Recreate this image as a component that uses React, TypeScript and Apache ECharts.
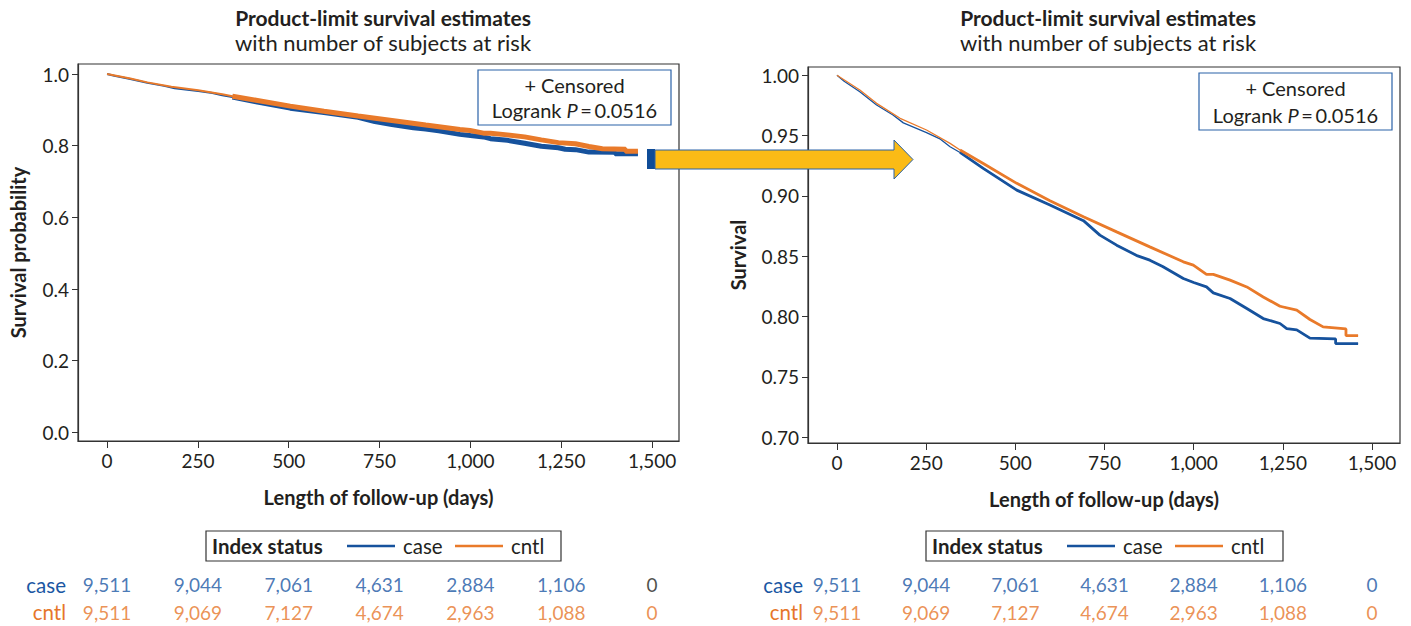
import React, { useEffect, useRef } from "react";
import * as echarts from "echarts";

// ---- data ----
const caseDays = [0, 20, 64, 111, 157, 186, 251, 290, 317, 345, 410, 504, 597, 691, 737, 784, 843, 877, 913, 971, 1000, 1036, 1055, 1102, 1149, 1195, 1242, 1261, 1289, 1326, 1398, 1398, 1461];
const caseSurv = [1.0, 0.995, 0.9863, 0.9753, 0.967, 0.9605, 0.9525, 0.947, 0.9407, 0.936, 0.9228, 0.9048, 0.8925, 0.8795, 0.8675, 0.8592, 0.8503, 0.8468, 0.8415, 0.8316, 0.8283, 0.8246, 0.8197, 0.815, 0.8067, 0.7984, 0.7943, 0.7901, 0.789, 0.7822, 0.7815, 0.7777, 0.7777];
const cntlDays = [0, 64, 111, 177, 251, 317, 345, 410, 504, 597, 691, 784, 877, 971, 999, 1036, 1055, 1102, 1149, 1195, 1242, 1289, 1326, 1363, 1427, 1427, 1461];
const cntlSurv = [1.0, 0.9877, 0.9767, 0.9643, 0.9546, 0.9435, 0.938, 0.9269, 0.9104, 0.896, 0.8827, 0.8702, 0.8578, 0.8454, 0.8426, 0.835, 0.835, 0.8302, 0.8246, 0.8163, 0.8086, 0.8053, 0.7976, 0.7915, 0.7898, 0.7843, 0.7843];

const riskDays = [0, 250, 500, 750, 1000, 1250, 1500];
const caseAtRisk = [9511, 9044, 7061, 4631, 2884, 1106, 0];
const cntlAtRisk = [9511, 9069, 7127, 4674, 2963, 1088, 0];
const groups = ["case", "cntl"];

const xTicks = [0, 250, 500, 750, 1000, 1250, 1500];
const leftYTicks = [0, 0.2, 0.4, 0.6, 0.8, 1.0];
const rightYTicks = [0.7, 0.75, 0.8, 0.85, 0.9, 0.95, 1.0];
const censorFrom = 345;

const titleText = "Product-limit survival estimates";
const subtitleText = "with number of subjects at risk";
const xTitle = "Length of follow-up (days)";
const leftYTitle = "Survival probability";
const rightYTitle = "Survival";

// ---- styles ----
const BLUE = "#16529d";
const ORANGE = "#e97a2a";
const TBLUE = "#1b57a3";
const TORANGE = "#e6762a";
const INK = "#231f20";
const FONT = "Lato";
const TXT = 20.5;
const NUM = 19;

const fmtNum = (v: number) => v.toLocaleString("en-US");

function kmSeries(xi: number, thin: number, thick: number) {
  const mk = (days: number[], surv: number[], color: string, name: string) => {
    const all = days.map((d, i) => [d, surv[i]]);
    const cens = all.filter((p) => p[0] >= censorFrom);
    return [
      { type: "line", name, xAxisIndex: xi, yAxisIndex: xi, data: all, showSymbol: false, symbol: "none", lineStyle: { color, width: thin }, itemStyle: { color }, z: 3 },
      { type: "line", name, xAxisIndex: xi, yAxisIndex: xi, data: cens, showSymbol: false, symbol: "none", lineStyle: { color, width: thick }, itemStyle: { color }, z: 3 },
    ];
  };
  return [...mk(caseDays, caseSurv, BLUE, "case"), ...mk(cntlDays, cntlSurv, ORANGE, "cntl")];
}

function riskSeries(idx: number, leftPanel: boolean) {
  const mk = (vals: number[], g: string, color: string) => ({
    type: "scatter",
    xAxisIndex: idx,
    yAxisIndex: idx,
    symbolSize: 1,
    itemStyle: { color: "rgba(0,0,0,0)" },
    silent: true,
    data: riskDays.map((d, i) => ({
      value: [d, g, vals[i]],
      label: { color: leftPanel && g === "case" && vals[i] === 0 ? INK : color },
    })),
    label: { show: true, position: "inside", fontFamily: FONT, fontSize: NUM, formatter: (p: any) => fmtNum(p.value[2]) },
  });
  return [mk(caseAtRisk, "case", TBLUE), mk(cntlAtRisk, "cntl", TORANGE)];
}

const axisLabelStyle = { color: INK, fontFamily: FONT, fontSize: NUM };
const axisLineStyle = { onZero: false, lineStyle: { color: "#333", width: 1.2 } };

function xAxisKM(gi: number, min: number, max: number) {
  return {
    type: "value", gridIndex: gi, min, max,
    name: xTitle, nameLocation: "middle", nameGap: 46,
    nameTextStyle: { color: INK, fontFamily: FONT, fontSize: 20, fontWeight: "bold" },
    axisLine: { show: true, ...axisLineStyle },
    axisTick: { show: true, length: 7, customValues: xTicks, lineStyle: { color: "#333" } },
    axisLabel: { ...axisLabelStyle, margin: 10, customValues: xTicks, formatter: (v: number) => fmtNum(v) },
    splitLine: { show: false },
  };
}

function yAxisKM(gi: number, min: number, max: number, ticks: number[], dec: number, name: string, gap: number) {
  return {
    type: "value", gridIndex: gi, min, max,
    name, nameLocation: "middle", nameGap: gap, nameRotate: 90,
    nameTextStyle: { color: INK, fontFamily: FONT, fontSize: 20, fontWeight: "bold" },
    axisLine: { show: true, ...axisLineStyle },
    axisTick: { show: true, length: 6, customValues: ticks, lineStyle: { color: "#333" } },
    axisLabel: { ...axisLabelStyle, margin: 9, customValues: ticks, formatter: (v: number) => v.toFixed(dec) },
    splitLine: { show: false },
  };
}

function xAxisRisk(gi: number, min: number, max: number) {
  return { type: "value", gridIndex: gi, min, max, show: false };
}

function yAxisRisk(gi: number, margin: number) {
  return {
    type: "category", gridIndex: gi, data: groups, inverse: true,
    axisLine: { show: false }, axisTick: { show: false }, splitLine: { show: false },
    axisLabel: {
      margin, fontFamily: FONT, fontSize: TXT,
      formatter: (v: string) => `{${v}|${v}}`,
      rich: { case: { color: TBLUE, fontFamily: FONT, fontSize: TXT }, cntl: { color: TORANGE, fontFamily: FONT, fontSize: TXT } },
    },
  };
}

function censorBox(x: number, y: number, w: number, h: number) {
  return {
    type: "group", x, y, z: 10,
    children: [
      { type: "rect", shape: { x: 0, y: 0, width: w, height: h }, style: { fill: "#fff", stroke: "#2a62a8", lineWidth: 1.2 } },
      { type: "text", x: w / 2, y: h * 0.27, style: { text: "+ Censored", fill: INK, font: `20px ${FONT}`, align: "center", verticalAlign: "middle" } },
      {
        type: "text", x: w / 2, y: h * 0.73,
        style: {
          text: "{n|Logrank }{i|P}{n|\u2009=\u20090.0516}", align: "center", verticalAlign: "middle",
          rich: { n: { fill: INK, font: `20px ${FONT}` }, i: { fill: INK, font: `italic 20px ${FONT}` } },
        },
      },
    ],
  };
}

function legendBox(x: number, y: number, w: number) {
  return {
    type: "group", x, y, z: 10,
    children: [
      { type: "rect", shape: { x: 0, y: 0, width: w, height: 30 }, style: { fill: "#fff", stroke: "#333", lineWidth: 1.2 } },
      { type: "text", x: 6, y: 15, style: { text: "Index status", fill: INK, font: `bold ${TXT}px ${FONT}`, verticalAlign: "middle" } },
      { type: "line", shape: { x1: 141, y1: 15, x2: 189, y2: 15 }, style: { stroke: BLUE, lineWidth: 2.5 } },
      { type: "text", x: 197, y: 15, style: { text: "case", fill: INK, font: `${TXT}px ${FONT}`, verticalAlign: "middle" } },
      { type: "line", shape: { x1: 249, y1: 15, x2: 297, y2: 15 }, style: { stroke: ORANGE, lineWidth: 2.5 } },
      { type: "text", x: 305, y: 15, style: { text: "cntl", fill: INK, font: `${TXT}px ${FONT}`, verticalAlign: "middle" } },
    ],
  };
}

function titleAt(cx: number) {
  return {
    text: titleText, subtext: subtitleText, left: cx, textAlign: "center", top: 2, itemGap: 3,
    textStyle: { color: INK, fontFamily: FONT, fontSize: 21, fontWeight: "bold" },
    subtextStyle: { color: INK, fontFamily: FONT, fontSize: 22 },
  };
}

export default function App() {
  const ref = useRef<HTMLDivElement>(null);
  useEffect(() => {
    document.body.style.margin = "0";
    const chart = echarts.init(ref.current!, undefined, { renderer: "svg" });
    const option: any = {
      animation: false,
      backgroundColor: "#fff",
      textStyle: { fontFamily: FONT },
      title: [titleAt(378), titleAt(1103)],
      grid: [
        { left: 78, top: 64, width: 601, height: 377, show: true, borderColor: "#333", borderWidth: 1.2, backgroundColor: "transparent" },
        { left: 808, top: 67, width: 592, height: 376, show: true, borderColor: "#333", borderWidth: 1.2, backgroundColor: "transparent" },
        { left: 78, top: 571, width: 601, height: 56 },
        { left: 808, top: 571, width: 592, height: 56 },
      ],
      xAxis: [xAxisKM(0, -80, 1574), xAxisKM(1, -81.3, 1578.5), xAxisRisk(2, -80, 1574), xAxisRisk(3, -81.3, 1578.5)],
      yAxis: [
        yAxisKM(0, -0.024, 1.028, leftYTicks, 1, leftYTitle, 50),
        yAxisKM(1, 0.6953, 1.0068, rightYTicks, 2, rightYTitle, 60),
        yAxisRisk(2, 12),
        yAxisRisk(3, 5),
      ],
      series: [...kmSeries(0, 2, 5), ...kmSeries(1, 1.3, 2.8), ...riskSeries(2, true), ...riskSeries(3, false)],
      graphic: [
        censorBox(478, 70, 193, 55),
        censorBox(1199, 73, 193, 57),
        legendBox(206, 531, 355),
        legendBox(926, 531, 357),
        { type: "rect", z: 20, shape: { x: 647, y: 149, width: 8, height: 20 }, style: { fill: "#0f4c97" } },
        {
          type: "polygon", z: 20,
          shape: { points: [[655, 150], [894, 150], [894, 140], [913, 159.5], [894, 179], [894, 169], [655, 169]] },
          style: { fill: "#fbbb16", stroke: "#2a62a8", lineWidth: 1 },
        },
      ],
    };
    chart.setOption(option);
    return () => chart.dispose();
  }, []);
  return <div ref={ref} style={{ position: "fixed", left: 0, top: 0, width: 1411, height: 626 }} />;
}
